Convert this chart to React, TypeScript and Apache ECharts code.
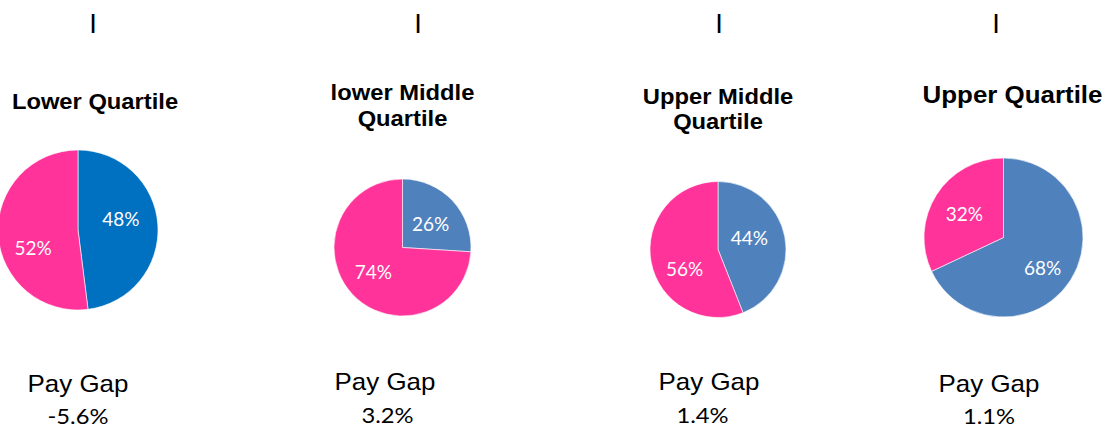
import React, { useEffect, useRef } from "react";
import * as echarts from "echarts";

// ---- data ----
const quartiles = ["Lower Quartile", "lower Middle\nQuartile", "Upper Middle\nQuartile", "Upper Quartile"];
const maleShare = [48, 26, 44, 68];
const femaleShare = [52, 74, 56, 32];
const payGapLabel = "Pay Gap";
const payGaps = ["-5.6%", "3.2%", "1.4%", "1.1%"];

// ---- layout (positions / sizes / styles) ----
const pieCenters: [number, number][] = [[78, 230], [402.5, 247.5], [718, 249.5], [1003.5, 237.5]];
const pieRadii = [80, 68.5, 68, 79.5];
const maleColors = ["#0070C0", "#4F81BD", "#4F81BD", "#4F81BD"];
const femaleColor = "#FF3399";
// label nudges [male, female] per pie, to mimic the original label placement
const labelShifts: [number, number][][] = [
  [[0, -9], [-2, 15]],
  [[1, 1], [-2, -1]],
  [[-5, -5], [3, 12]],
  [[3, 7], [-3, -1]],
];
const titlePos = [
  { x: 95, y: 101, size: 22, lh: 26 },
  { x: 402.5, y: 105, size: 22, lh: 26 },
  { x: 718, y: 108.5, size: 22, lh: 25 },
  { x: 1012.5, y: 94, size: 24, lh: 26 },
];
const pipeX = [93, 418, 719, 996];
const payGapPos = [
  { x: 78, y: 383 },
  { x: 385, y: 381 },
  { x: 709, y: 381 },
  { x: 989, y: 383 },
];
const gapValuePos = [
  { x: 78, y: 415 },
  { x: 387.5, y: 414 },
  { x: 702.5, y: 414 },
  { x: 989, y: 415 },
];
const STRETCH = 1.08;

export default function App() {
  const ref = useRef<HTMLDivElement>(null);

  useEffect(() => {
    document.body.style.margin = "0";
    if (!ref.current) return;
    const chart = echarts.init(ref.current, undefined, { renderer: "svg" });

    const series = quartiles.map((q, i) => ({
      type: "pie",
      name: q.replace("\n", " "),
      center: pieCenters[i],
      radius: [0, pieRadii[i]],
      startAngle: 90,
      clockwise: true,
      silent: true,
      label: {
        show: true,
        position: "inside",
        formatter: "{c}%",
        color: "#ffffff",
        fontFamily: "Lato",
        fontSize: 19,
      },
      labelLine: { show: false },
      labelLayout: (p: any) => {
        const s = labelShifts[i][p.dataIndex] || [0, 0];
        return { dx: s[0], dy: s[1] };
      },
      itemStyle: { borderColor: "#ffffff", borderWidth: 0.6 },
      data: [
        { name: "Male", value: maleShare[i], itemStyle: { color: maleColors[i] } },
        { name: "Female", value: femaleShare[i], itemStyle: { color: femaleColor } },
      ],
    }));

    const graphics: any[] = [];
    pipeX.forEach((x) => {
      graphics.push({
        type: "text",
        x,
        y: 22,
        style: {
          text: "|",
          fill: "#000",
          fontFamily: "'Liberation Sans', Arial, sans-serif",
          fontWeight: "bold",
          fontSize: 20,
          align: "center",
          verticalAlign: "middle",
        },
      });
    });
    quartiles.forEach((q, i) => {
      const t = titlePos[i];
      graphics.push({
        type: "text",
        x: t.x,
        y: t.y,
        scaleX: STRETCH,
        style: {
          text: q,
          fill: "#000",
          fontFamily: "'Liberation Sans', Arial, sans-serif",
          fontWeight: "bold",
          fontSize: t.size,
          lineHeight: t.lh,
          align: "center",
          verticalAlign: "middle",
        },
      });
      graphics.push({
        type: "text",
        x: payGapPos[i].x,
        y: payGapPos[i].y,
        scaleX: STRETCH,
        style: {
          text: payGapLabel,
          fill: "#000",
          fontFamily: "'Liberation Sans', Arial, sans-serif",
          fontSize: 24,
          align: "center",
          verticalAlign: "middle",
        },
      });
      graphics.push({
        type: "text",
        x: gapValuePos[i].x,
        y: gapValuePos[i].y,
        scaleX: STRETCH,
        style: {
          text: payGaps[i],
          fill: "#000",
          fontFamily: "Lato, sans-serif",
          fontSize: 22,
          lineHeight: 22,
          align: "center",
          verticalAlign: "middle",
        },
      });
    });

    chart.setOption({
      animation: false,
      backgroundColor: "#ffffff",
      series,
      graphic: graphics,
    });

    return () => chart.dispose();
  }, []);

  return <div ref={ref} style={{ width: 1112, height: 429 }} />;
}
